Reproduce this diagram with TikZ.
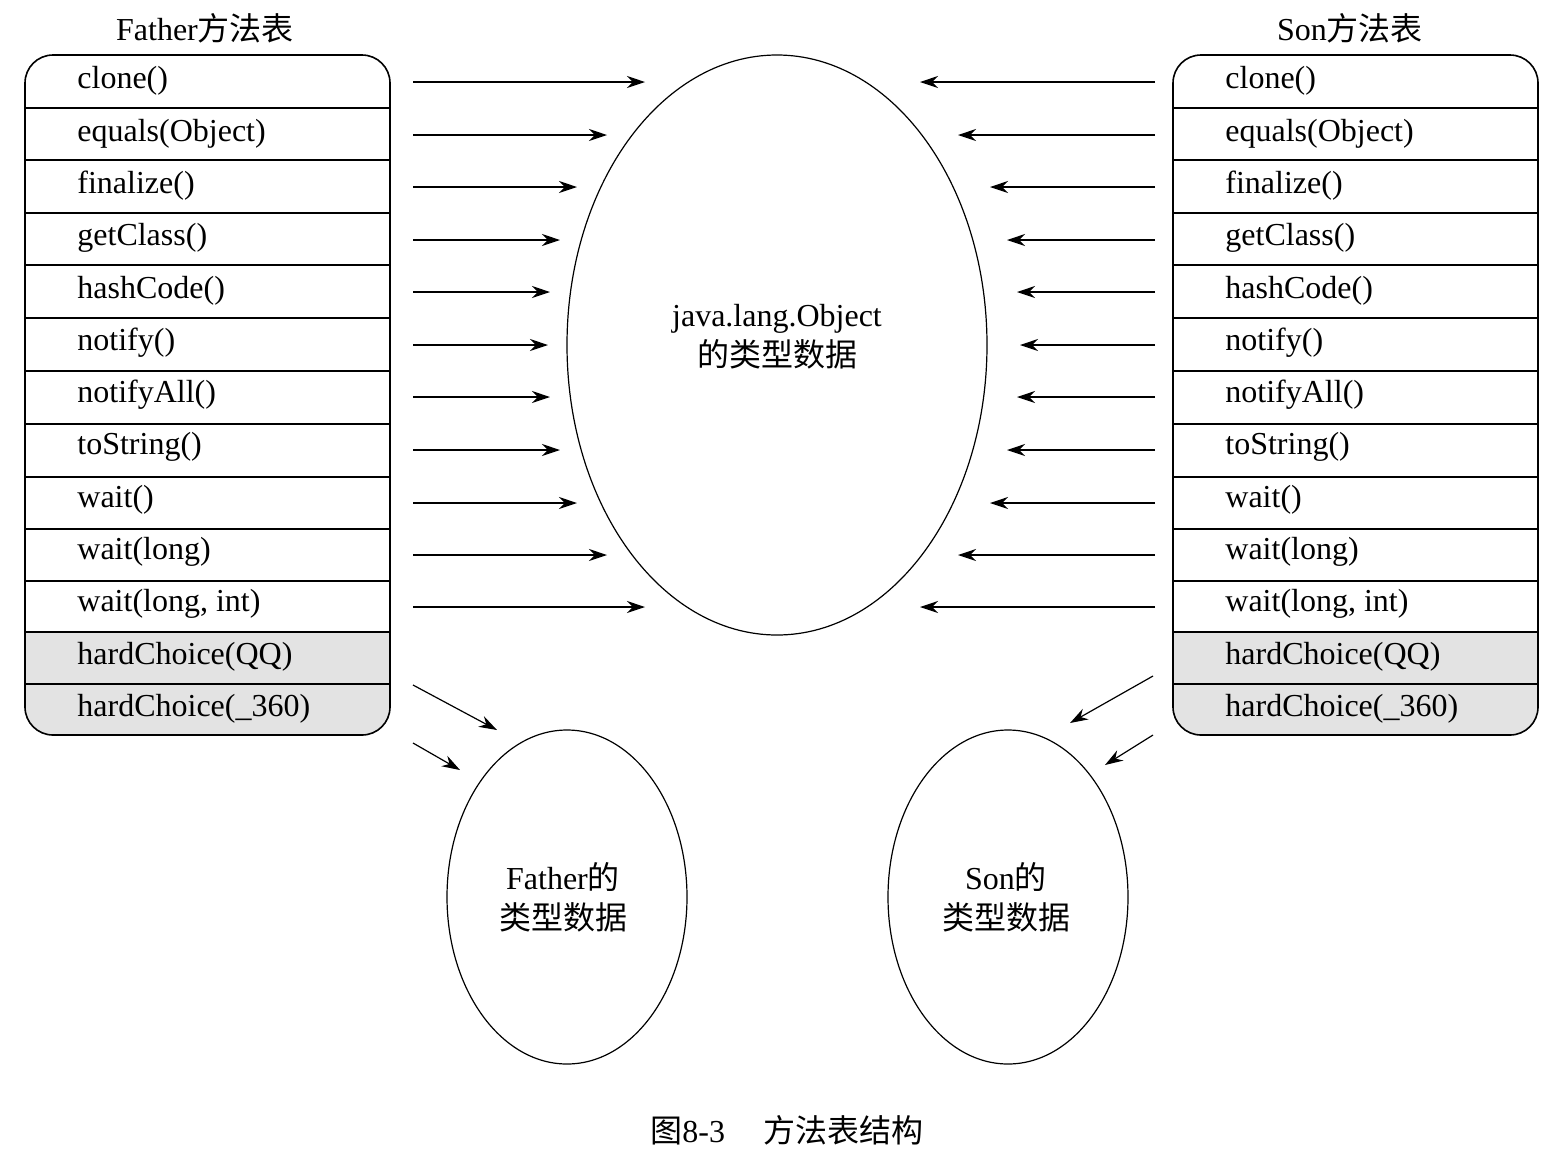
\documentclass[tikz,border=0pt]{standalone}
\usepackage{fontspec}
\setmainfont{Liberation Serif}
\newfontfamily\cjk{Noto Sans CJK SC}
\usetikzlibrary{arrows.meta}
\begin{document}
\begin{tikzpicture}[x=0.5pt,y=-0.5pt,
  lbl/.style={anchor=west,font=\fontsize{16}{18}\selectfont,inner sep=0pt},
  ctr/.style={align=center,font=\fontsize{16}{20}\selectfont},
  arr/.style={-{Stealth[length=9pt,width=6pt]},line width=0.6pt},
  ell/.style={draw,ellipse,line width=0.6pt}]
\useasboundingbox (0,0) rectangle (1564,1158);
\fill[white] (0,0) rectangle (1564,1158);
% tables
\foreach \x/\n in {25/L,1173/R}{
  \fill[gray!22] (\x,632) rectangle ++(365,52);
  \begin{scope}
  \clip[rounded corners=14] (\x,55) rectangle ++(365,680);
  \fill[gray!22] (\x,684) rectangle ++(365,51);
  \end{scope}
  \draw[line width=0.8pt,rounded corners=14] (\x,55) rectangle ++(365,680);
  \foreach \yy in {108,160,213,265,318,371,424,477,529,581,632,684}
    \draw[line width=0.8pt] (\x,\yy) -- ++(365,0);
  \foreach \t [count=\i] in {clone(),equals(Object),finalize(),getClass(),hashCode(),notify(),notifyAll(),toString(),wait(),wait(long),{wait(long, int)},hardChoice(QQ),hardChoice(\_360)}
    \node[lbl] (\n\i) at (\x+52,{55+52.3*(\i-0.5)}) {\t};
}
\node[font=\fontsize{16}{18}\selectfont] (ft) at (205,28) {Father{\cjk 方法表}};
\node[font=\fontsize{16}{18}\selectfont] (st) at (1350,28) {Son{\cjk 方法表}};
% ellipses
\draw[line width=0.6pt] (777,345) ellipse [x radius=210,y radius=290];
\node[ctr] (obj) at (777,337) {java.lang.Object\\{\cjk 的类型数据}};
\draw[line width=0.6pt] (567,897) ellipse [x radius=120,y radius=167];
\node[ctr] (fa) at (563,897) {Father{\cjk 的}\\{\cjk 类型数据}};
\draw[line width=0.6pt] (1008,897) ellipse [x radius=120,y radius=167];
\node[ctr] (so) at (1006,897) {Son{\cjk 的}\\{\cjk 类型数据}};
% arrows
\foreach \yy/\le/\re [count=\i] in {82/645/920,135/607/958,187/577/990,240/560/1007,292/550/1017,345/548/1020,397/550/1017,450/560/1007,503/577/990,555/607/958,607/645/920}{
  \coordinate (ls\i) at (413,\yy); \coordinate (le\i) at (\le,\yy);
  \coordinate (rs\i) at (1155,\yy); \coordinate (re\i) at (\re,\yy);
  \draw[arr] (ls\i) -- (le\i);
  \draw[arr] (rs\i) -- (re\i);
}
\coordinate (a1) at (413,685); \coordinate (b1) at (497,730);
\coordinate (a2) at (413,743); \coordinate (b2) at (460,770);
\coordinate (a3) at (1153,676); \coordinate (b3) at (1070,723);
\coordinate (a4) at (1153,735); \coordinate (b4) at (1105,765);
\draw[arr] (a1) -- (b1); \draw[arr] (a2) -- (b2);
\draw[arr] (a3) -- (b3); \draw[arr] (a4) -- (b4);
\node[font=\fontsize{16}{18}\selectfont] (cap) at (787,1130) {{\cjk 图}8-3\hspace{1.2em}{\cjk 方法表结构}};
\end{tikzpicture}
\end{document}
